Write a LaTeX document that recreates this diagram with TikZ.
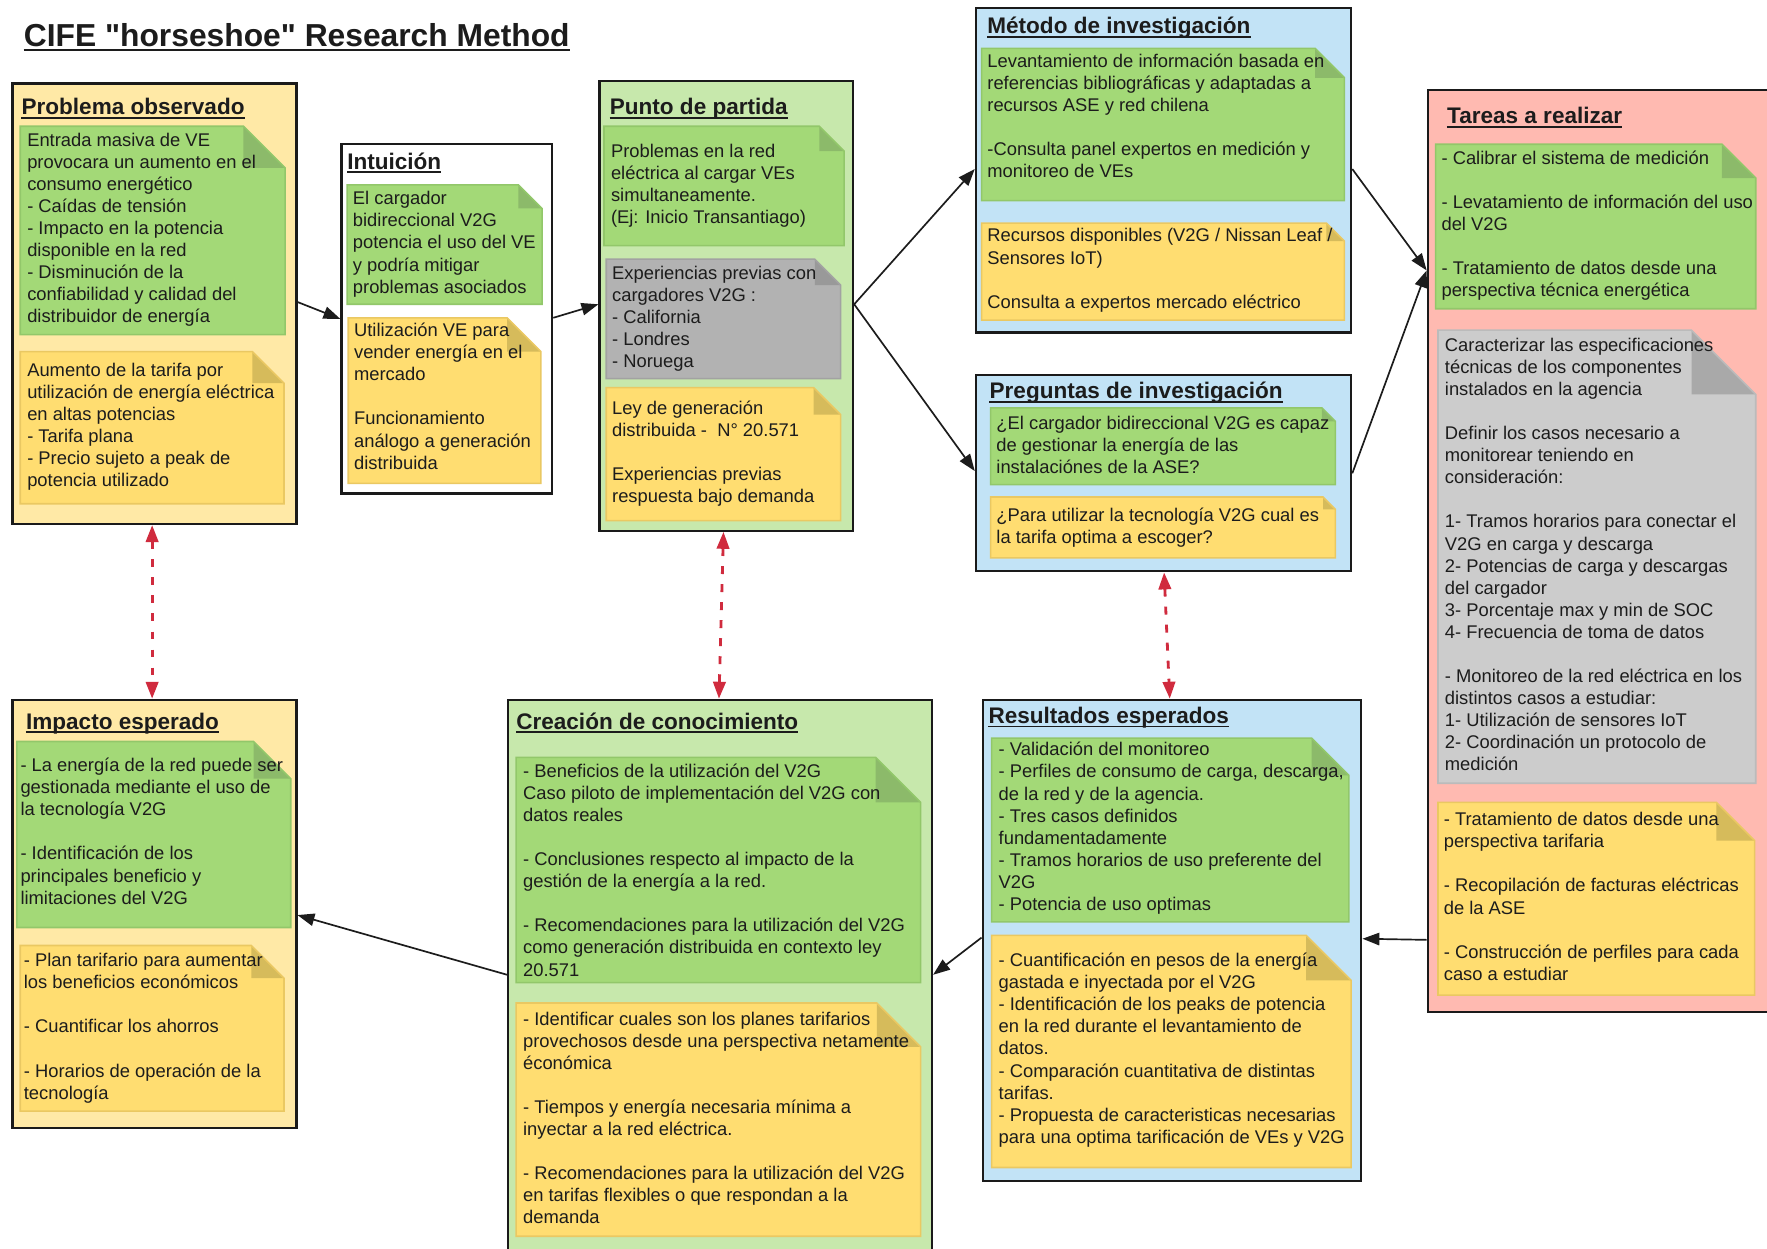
\documentclass[tikz,border=0pt]{standalone}
\usepackage{fontspec}
\setmainfont{Liberation Sans}
% same family without TeX ligatures, so that " stays a straight quote
\newfontfamily\titlefont{Liberation Sans}
\usetikzlibrary{arrows.meta,calc}

\definecolor{inkc}{HTML}{1C1C1C}
\definecolor{boxline}{HTML}{1A1A1A}
\definecolor{paleyellow}{HTML}{FFE9A6}
\definecolor{palegreen}{HTML}{C7E8AC}
\definecolor{paleblue}{HTML}{C2E3F6}
\definecolor{palepink}{HTML}{FFBAB1}
\definecolor{ngreen}{HTML}{A3D977}
\definecolor{ngreenline}{HTML}{92C76A}
\definecolor{ngreenfold}{HTML}{8CBA6A}
\definecolor{nyellow}{HTML}{FFDD71}
\definecolor{nyellowline}{HTML}{EAC862}
\definecolor{nyellowfold}{HTML}{D6BB5B}
\definecolor{ngray}{HTML}{B2B2B2}
\definecolor{ngrayline}{HTML}{A2A2A2}
\definecolor{ngrayfold}{HTML}{999999}
\definecolor{nlgray}{HTML}{CCCCCC}
\definecolor{nlgrayline}{HTML}{BBBBBB}
\definecolor{nlgrayfold}{HTML}{A9A9A9}
\definecolor{linkred}{HTML}{D02B3E}

% sticky note with a folded top-right corner
% #1 colour prefix, #2 x1, #3 y1, #4 x2, #5 y2, #6 fold size
\newcommand{\stickynote}[6]{%
  \fill[#1] (#2,#3) -- ({#4-#6},#3) -- (#4,{#3+#6}) -- (#4,#5) -- (#2,#5) -- cycle;
  \fill[#1fold] ({#4-#6},#3) -- ({#4-#6},{#3+#6}) -- (#4,{#3+#6}) -- cycle;
  \draw[#1line, line width=1.4pt, line join=miter]
    (#2,#3) -- ({#4-#6},#3) -- (#4,{#3+#6}) -- (#4,#5) -- (#2,#5) -- cycle;
}
% text block: #1 name, #2 x, #3 centre of the first line, #4 lines
\newcommand{\notetext}[4]{%
  \node[notetxt] (#1) at (#2,{#3-10.5}) {\rule{0pt}{16pt}#4};
}
% underlined panel heading: #1 name, #2 x, #3 baseline, #4 text
\newcommand{\panelhead}[4]{%
  \node[headtxt] (#1) at (#2,#3) {#4};
  \draw[inkc, line width=1.5pt] ([yshift=-2.6pt]#1.base west) -- ([yshift=-2.6pt]#1.base east);
}

\begin{document}
\begin{tikzpicture}[x=1pt,y=-1pt,
  panel/.style={draw=boxline, line width=2pt, anchor=north west, inner sep=0pt},
  notetxt/.style={anchor=north west, inner sep=0pt, align=left, text=inkc,
    font=\fontsize{16.3}{19.6}\selectfont},
  headtxt/.style={anchor=base west, inner sep=0pt, text=inkc,
    font=\fontsize{20}{24}\selectfont\bfseries},
  flow/.style={draw=inkc, line width=1.5pt, -{Triangle[length=15pt,width=11pt]}},
  link/.style={draw=linkred, line width=2.5pt, dash pattern=on 7pt off 9pt,
    {Triangle[length=15pt,width=11pt]}-{Triangle[length=15pt,width=11pt]}},
  ngreenfold/.style={fill=ngreenfold}, ngreenline/.style={draw=ngreenline}, ngreen/.style={fill=ngreen},
  nyellowfold/.style={fill=nyellowfold}, nyellowline/.style={draw=nyellowline}, nyellow/.style={fill=nyellow},
  ngrayfold/.style={fill=ngrayfold}, ngrayline/.style={draw=ngrayline}, ngray/.style={fill=ngray},
  nlgrayfold/.style={fill=nlgrayfold}, nlgrayline/.style={draw=nlgrayline}, nlgray/.style={fill=nlgray}
]
\useasboundingbox (0,0) rectangle (1568,1108);
\fill[white] (0,0) rectangle (1568,1108);

% ---------- title ----------
\node[anchor=base west, inner sep=0pt, text=inkc, font=\titlefont\fontsize{28.2}{32}\selectfont\bfseries]
  (title) at (21,41) {CIFE "horseshoe" Research Method};
\draw[inkc, line width=2pt] ([yshift=-3.5pt]title.base west) -- ([yshift=-3.5pt]title.base east);

% ---------- panels ----------
\node[panel, fill=paleyellow, minimum width=252pt, minimum height=391pt] (prob)   at (10,73) {};
\node[panel, fill=white,      minimum width=187pt, minimum height=310pt] (intu)   at (302,127) {};
\node[panel, fill=palegreen,  minimum width=225pt, minimum height=399pt] (punto)  at (531,71) {};
\node[panel, fill=paleblue,   minimum width=333pt, minimum height=288pt] (metodo) at (865,6) {};
\node[panel, fill=paleblue,   minimum width=333pt, minimum height=174pt] (preg)   at (865,332) {};
\node[panel, fill=palepink,   minimum width=320pt, minimum height=818pt] (tareas) at (1266,79) {};
\node[panel, fill=paleyellow, minimum width=252pt, minimum height=380pt] (imp)    at (10,620) {};
\node[panel, fill=palegreen,  minimum width=376pt, minimum height=500pt] (crea)   at (450,620) {};
\node[panel, fill=paleblue,   minimum width=336pt, minimum height=427pt] (res)    at (871,620) {};

% ---------- Problema observado ----------
\panelhead{hprob}{19}{102}{Problema observado}
\stickynote{ngreen}{18}{112}{253}{297}{37}
\notetext{tprob1}{24}{124}{Entrada masiva de VE\\provocara un aumento en el\\consumo energético\\- Caídas de tensión\\- Impacto en la potencia\\disponible en la red\\- Disminución de la\\confiabilidad y calidad del\\distribuidor de energía}
\stickynote{nyellow}{18}{312}{252}{447}{28}
\notetext{tprob2}{24}{328}{Aumento de la tarifa por\\utilización de energía eléctrica\\en altas potencias\\- Tarifa plana\\- Precio sujeto a peak de\\potencia utilizado}

% ---------- Intuición ----------
\panelhead{hintu}{308}{150}{Intuición}
\stickynote{ngreen}{308}{164}{481}{270}{21}
\notetext{tintu1}{313}{176}{El cargador\\bidireccional V2G\\potencia el uso del VE\\y podría mitigar\\problemas asociados}
\stickynote{nyellow}{309}{282}{480}{429}{30}
\notetext{tintu2}{314}{293}{Utilización VE para\\vender energía en el\\mercado\\[19.6pt]Funcionamiento\\análogo a generación\\distribuida}

% ---------- Punto de partida ----------
\panelhead{hpunto}{541}{102}{Punto de partida}
\stickynote{ngreen}{536}{112}{749}{218}{22}
\notetext{tpunto1}{542}{134}{Problemas en la red\\eléctrica al cargar VEs\\simultaneamente.\\(Ej: Inicio Transantiago)}
\stickynote{ngray}{538}{230}{746}{336}{23}
\notetext{tpunto2}{543}{242}{Experiencias previas con\\cargadores V2G :\\- California\\- Londres\\- Noruega}
\stickynote{nyellow}{538}{344}{746}{462}{24}
\notetext{tpunto3}{543}{362}{Ley de generación\\distribuida -\ \ N° 20.571\\[19.6pt]Experiencias previas\\respuesta bajo demanda}

% ---------- Método de investigación ----------
\panelhead{hmetodo}{876}{30}{Método de investigación}
\stickynote{ngreen}{871}{43}{1193}{178}{26}
\notetext{tmetodo1}{876}{54}{Levantamiento de información basada en\\referencias bibliográficas y adaptadas a\\recursos ASE y red chilena\\[19.6pt]-Consulta panel expertos en medición y\\monitoreo de VEs}
\stickynote{nyellow}{871}{198}{1193}{284}{16}
\notetext{tmetodo2}{876}{209}{Recursos disponibles (V2G / Nissan Leaf /\\Sensores IoT)\\[19.6pt]Consulta a expertos mercado eléctrico}

% ---------- Preguntas de investigación ----------
\panelhead{hpreg}{878}{354}{Preguntas de investigación}
\stickynote{ngreen}{879}{362}{1185}{430}{12}
\notetext{tpreg1}{884}{375}{¿El cargador bidireccional V2G es capaz\\de gestionar la energía de las\\instalaciónes de la ASE?}
\stickynote{nyellow}{879}{441}{1185}{495}{11}
\notetext{tpreg2}{884}{457}{¿Para utilizar la tecnología V2G cual es\\la tarifa optima a escoger?}

% ---------- Tareas a realizar ----------
\panelhead{htareas}{1284}{110}{Tareas a realizar}
\stickynote{ngreen}{1274}{128}{1558}{274}{30}
\notetext{ttareas1}{1279}{140}{- Calibrar el sistema de medición\\[19.6pt]- Levatamiento de información del uso\\del V2G\\[19.6pt]- Tratamiento de datos desde una\\perspectiva técnica energética}
\stickynote{nlgray}{1276}{293}{1558}{695}{57}
\notetext{ttareas2}{1282}{306}{Caracterizar las especificaciones\\técnicas de los componentes\\instalados en la agencia\\[19.6pt]Definir los casos necesario a\\monitorear teniendo en\\consideración:\\[19.6pt]1- Tramos horarios para conectar el\\V2G en carga y descarga\\2- Potencias de carga y descargas\\del cargador\\3- Porcentaje max y min de SOC\\4- Frecuencia de toma de datos\\[19.6pt]- Monitoreo de la red eléctrica en los\\distintos casos a estudiar:\\1- Utilización de sensores IoT\\2- Coordinación un protocolo de\\medición}
\stickynote{nyellow}{1276}{712}{1557}{883}{34}
\notetext{ttareas3}{1281}{727}{- Tratamiento de datos desde una\\perspectiva tarifaria\\[19.6pt]- Recopilación de facturas eléctricas\\de la ASE\\[19.6pt]- Construcción de perfiles para cada\\caso a estudiar}

% ---------- Impacto esperado ----------
\panelhead{himp}{23}{647}{Impacto esperado}
\stickynote{ngreen}{15}{658}{258}{823}{33}
\notetext{timp1}{18}{679}{- La energía de la red puede ser\\gestionada mediante el uso de\\la tecnología V2G\\[19.6pt]- Identificación de los\\principales beneficio y\\limitaciones del V2G}
\stickynote{nyellow}{18}{839}{252}{986}{29}
\notetext{timp2}{21}{852}{- Plan tarifario para aumentar\\los beneficios económicos\\[19.6pt]- Cuantificar los ahorros\\[19.6pt]- Horarios de operación de la\\tecnología}

% ---------- Creación de conocimiento ----------
\panelhead{hcrea}{458}{647}{Creación de conocimiento}
\stickynote{ngreen}{458}{672}{817}{872}{40}
\notetext{tcrea1}{464}{684}{- Beneficios de la utilización del V2G\\Caso piloto de implementación del V2G con\\datos reales\\[19.6pt]- Conclusiones respecto al impacto de la\\gestión de la energía a la red.\\[19.6pt]- Recomendaciones para la utilización del V2G\\como generación distribuida en contexto ley\\20.571}
\stickynote{nyellow}{458}{890}{817}{1097}{39}
\notetext{tcrea2}{464}{904}{- Identificar cuales son los planes tarifarios\\provechosos desde una perspectiva netamente\\éconómica\\[19.6pt]- Tiempos y energía necesaria mínima a\\inyectar a la red eléctrica.\\[19.6pt]- Recomendaciones para la utilización del V2G\\en tarifas flexibles o que respondan a la\\demanda}

% ---------- Resultados esperados ----------
\panelhead{hres}{877}{642}{Resultados esperados}
\stickynote{ngreen}{880}{655}{1197}{818}{33}
\notetext{tres1}{886}{665}{- Validación del monitoreo\\- Perfiles de consumo de carga, descarga,\\de la red y de la agencia.\\- Tres casos definidos\\fundamentadamente\\- Tramos horarios de uso preferente del\\V2G\\- Potencia de uso optimas}
\stickynote{nyellow}{880}{830}{1199}{1036}{40}
\notetext{tres2}{886}{852}{- Cuantificación en pesos de la energía\\gastada e inyectada por el V2G\\- Identificación de los peaks de potencia\\en la red durante el levantamiento de\\datos.\\- Comparación cuantitativa de distintas\\tarifas.\\- Propuesta de caracteristicas necesarias\\para una optima tarificación de VEs y V2G}

% ---------- flow arrows ----------
\draw[flow] ($(prob.north east)+(0,195)$)   -- ($(intu.north west)+(0,156)$);
\draw[flow] ($(intu.north east)+(0,155)$)   -- ($(punto.north west)+(0,199)$);
\draw[flow] ($(punto.north east)+(0,199)$)  -- ($(metodo.north west)+(0,144)$);
\draw[flow] ($(punto.north east)+(0,199)$)  -- ($(preg.north west)+(0,86)$);
\draw[flow] ($(metodo.north east)+(0,144)$) -- ($(tareas.north west)+(0,161)$);
\draw[flow] ($(preg.north east)+(0,88)$)    -- ($(tareas.north west)+(0,161)$);
\draw[flow] ($(tareas.north west)+(0,755)$) -- ($(res.north east)+(0,213)$);
\draw[flow] ($(res.north west)+(0,212)$)    -- ($(crea.north east)+(0,245)$);
\draw[flow] ($(crea.north west)+(0,245)$)   -- ($(imp.north east)+(0,192)$);

% ---------- feedback links ----------
\draw[link] ($(prob.south west)+(125,0)$)  -- ($(imp.north west)+(125,0)$);
\draw[link] ($(punto.south west)+(111,0)$) -- ($(crea.north west)+(188,0)$);
\draw[link] ($(preg.south west)+(168,0)$)  -- ($(res.north west)+(167,0)$);
\end{tikzpicture}
\end{document}
